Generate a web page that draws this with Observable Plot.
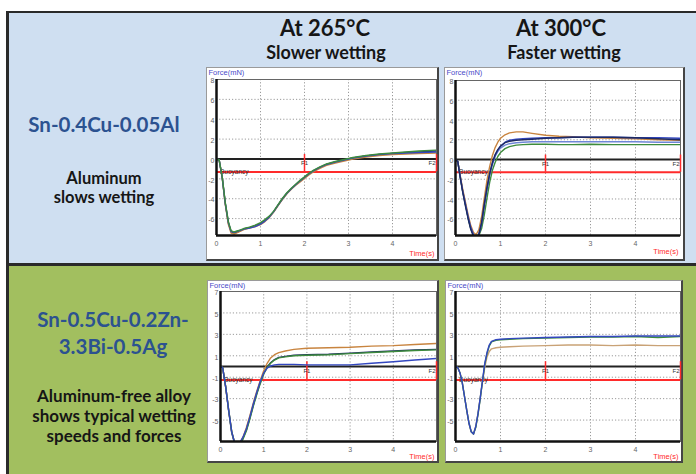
<!DOCTYPE html>
<html><head><meta charset="utf-8">
<script src="https://cdn.jsdelivr.net/npm/d3@7"></script>
<script src="https://cdn.jsdelivr.net/npm/@observablehq/plot@0.6"></script>
<style>
html,body{margin:0;padding:0;background:#fff;}
#root{position:relative;width:696px;height:474px;overflow:hidden;}
.box{position:absolute;background:#fff;border-top:1px solid #9a9a9a;border-left:1px solid #9a9a9a;border-right:2px solid #454545;border-bottom:2px solid #454545;}
.box svg{display:block;}
</style></head><body><div id="root"></div>
<script>
// ---------- text ----------
const columnTitles = ["At 265°C", "At 300°C"];
const columnSubtitles = ["Slower wetting", "Faster wetting"];
const alloyTop = ["Sn-0.4Cu-0.05Al"];
const noteTop = ["Aluminum", "slows wetting"];
const alloyBottom = ["Sn-0.5Cu-0.2Zn-", "3.3Bi-0.5Ag"];
const noteBottom = ["Aluminum-free alloy", "shows typical wetting", "speeds and forces"];
const yLabel = "Force(mN)";
const xLabel = "Time(s)";
const buoyancyLabel = "Buoyancy";
const markerLabels = ["F1", "F2"];

// ---------- axes ----------
const xDomain = [0, 5];
const xTicks = [0, 1, 2, 3, 4];
const yDomainTop = [-7.7, 8];
const yTicksTop = [8, 6, 4, 2, 0, -2, -4, -6];
const yDomainBottom = [-7, 7];
const yTicksBottom = [7, 5, 3, 1, -1, -3, -5];
const buoyancyTop = -1.3;
const buoyancyBottom = -1.25;
const markerT = [2, 5];

// ---------- Panel A: Sn-0.4Cu-0.05Al at 265°C ----------
const tA = [0, 0.06, 0.13, 0.2, 0.27, 0.33, 0.4, 0.5, 0.62, 0.75, 0.88, 1.0, 1.1, 1.2, 1.3, 1.4, 1.5, 1.6, 1.7, 1.8, 1.9, 2.0, 2.1, 2.2, 2.35, 2.5, 2.7, 2.9, 3.1, 3.4, 3.7, 4.0, 4.3, 4.6, 5.0];
const a1 = [0, -0.1, -1.8, -4.4, -6.3, -7.2, -7.35, -7.2, -7.0, -6.85, -6.65, -6.4, -6.1, -5.75, -5.25, -4.6, -3.95, -3.4, -2.95, -2.55, -2.15, -1.8, -1.45, -1.15, -0.8, -0.5, -0.25, -0.05, 0.15, 0.35, 0.5, 0.6, 0.7, 0.8, 0.9];
const a2 = [0, -0.1, -1.9, -4.5, -6.4, -7.3, -7.4, -7.25, -7.05, -6.95, -6.8, -6.55, -6.25, -5.85, -5.3, -4.65, -4.0, -3.45, -3.0, -2.6, -2.2, -1.85, -1.5, -1.2, -0.85, -0.55, -0.3, -0.1, 0.1, 0.3, 0.45, 0.55, 0.6, 0.65, 0.7];
const a3 = [0, -0.1, -1.9, -4.6, -6.6, -7.45, -7.55, -7.35, -7.1, -6.95, -6.8, -6.6, -6.3, -5.9, -5.35, -4.7, -4.05, -3.5, -3.05, -2.65, -2.3, -1.95, -1.6, -1.3, -0.95, -0.65, -0.4, -0.2, 0.0, 0.2, 0.35, 0.45, 0.5, 0.55, 0.6];
const a4 = [0, -0.1, -1.85, -4.5, -6.45, -7.3, -7.45, -7.3, -7.05, -6.9, -6.7, -6.5, -6.2, -5.8, -5.3, -4.65, -4.0, -3.45, -3.0, -2.6, -2.2, -1.85, -1.5, -1.2, -0.85, -0.55, -0.3, -0.1, 0.1, 0.3, 0.45, 0.55, 0.65, 0.72, 0.8];

// ---------- Panel B: Sn-0.4Cu-0.05Al at 300°C ----------
const tB = [0, 0.05, 0.1, 0.16, 0.22, 0.28, 0.34, 0.4, 0.46, 0.52, 0.58, 0.64, 0.7, 0.76, 0.82, 0.88, 0.94, 1.0, 1.1, 1.2, 1.35, 1.5, 1.7, 2.0, 2.3, 2.6, 3.0, 3.5, 4.0, 4.5, 5.0];
const b1 = [0, -0.2, -1.6, -3.2, -4.5, -5.8, -6.9, -7.6, -7.9, -7.6, -6.5, -4.7, -3.0, -1.5, -0.4, 0.4, 0.95, 1.35, 1.75, 1.95, 2.05, 2.1, 2.15, 2.2, 2.2, 2.25, 2.25, 2.25, 2.2, 2.2, 2.15];
const b2 = [0, -0.2, -1.5, -3.0, -4.3, -5.6, -6.7, -7.4, -7.6, -7.1, -5.8, -3.9, -2.1, -0.7, 0.4, 1.2, 1.75, 2.15, 2.5, 2.7, 2.8, 2.8, 2.65, 2.45, 2.35, 2.3, 2.2, 2.15, 2.1, 2.0, 1.95];
const b3 = [0, -0.2, -1.6, -3.2, -4.5, -5.9, -7.0, -7.7, -7.9, -7.7, -7.0, -5.6, -3.9, -2.3, -1.1, -0.3, 0.3, 0.7, 1.1, 1.3, 1.45, 1.5, 1.55, 1.55, 1.5, 1.5, 1.55, 1.5, 1.5, 1.5, 1.5];
const b4 = [0, -0.2, -1.7, -3.3, -4.7, -6.0, -7.1, -7.8, -8.0, -7.6, -6.4, -4.5, -2.8, -1.4, -0.3, 0.5, 1.0, 1.35, 1.7, 1.85, 1.95, 2.0, 2.05, 2.15, 2.2, 2.25, 2.25, 2.25, 2.2, 2.1, 2.0];
const b5 = [0, -0.2, -1.6, -3.2, -4.6, -5.9, -7.0, -7.7, -7.9, -7.5, -6.3, -4.5, -2.9, -1.5, -0.5, 0.3, 0.8, 1.15, 1.45, 1.6, 1.7, 1.75, 1.8, 1.8, 1.8, 1.8, 1.8, 1.8, 1.8, 1.75, 1.75];

// ---------- Panel C: Sn-0.5Cu-0.2Zn-3.3Bi-0.5Ag at 265°C ----------
const tC = [0, 0.05, 0.12, 0.19, 0.26, 0.32, 0.38, 0.45, 0.52, 0.6, 0.68, 0.76, 0.84, 0.92, 1.0, 1.08, 1.16, 1.25, 1.35, 1.5, 1.7, 2.0, 2.5, 3.0, 3.5, 4.0, 4.5, 5.0];
const c1 = [0, -0.1, -1.9, -4.1, -6.1, -7.0, -7.3, -7.1, -6.6, -5.7, -4.6, -3.4, -2.3, -1.3, -0.4, 0.3, 0.8, 1.1, 1.3, 1.45, 1.6, 1.7, 1.75, 1.8, 1.9, 1.95, 2.05, 2.15];
const c2 = [0, -0.1, -1.9, -4.1, -6.1, -7.0, -7.3, -7.2, -6.8, -6.0, -4.9, -3.7, -2.6, -1.6, -0.7, -0.1, 0.3, 0.6, 0.8, 0.9, 1.0, 1.05, 1.1, 1.2, 1.3, 1.4, 1.5, 1.55];
const c3 = [0, -0.1, -1.9, -4.2, -6.2, -7.1, -7.3, -7.2, -6.7, -5.9, -4.8, -3.6, -2.5, -1.5, -0.65, -0.05, 0.35, 0.65, 0.85, 0.95, 1.05, 1.1, 1.15, 1.25, 1.35, 1.45, 1.55, 1.6];
const c4 = [0, -0.1, -1.9, -4.1, -6.1, -7.0, -7.3, -7.1, -6.6, -5.8, -4.7, -3.5, -2.4, -1.4, -0.6, -0.15, 0.05, 0.15, 0.2, 0.2, 0.2, 0.15, 0.15, 0.15, 0.3, 0.45, 0.6, 0.75];

// ---------- Panel D: Sn-0.5Cu-0.2Zn-3.3Bi-0.5Ag at 300°C ----------
const tD = [0, 0.05, 0.1, 0.15, 0.2, 0.25, 0.3, 0.35, 0.4, 0.45, 0.5, 0.55, 0.6, 0.65, 0.7, 0.75, 0.8, 0.9, 1.0, 1.2, 1.5, 2.0, 2.5, 3.0, 3.5, 4.0, 4.5, 5.0];
const dd1 = [0, -0.1, -0.6, -1.5, -2.8, -4.1, -5.3, -6.1, -6.3, -5.6, -4.4, -2.9, -1.3, 0.3, 1.3, 2.0, 2.35, 2.5, 2.55, 2.6, 2.65, 2.7, 2.75, 2.8, 2.8, 2.85, 2.85, 2.85];
const dd2 = [0, -0.1, -0.6, -1.5, -2.8, -4.1, -5.3, -6.1, -6.3, -5.7, -4.5, -3.0, -1.4, 0.2, 1.2, 1.9, 2.3, 2.45, 2.5, 2.55, 2.6, 2.65, 2.7, 2.75, 2.75, 2.8, 2.7, 2.8];
const dd3 = [0, -0.1, -0.6, -1.5, -2.8, -4.1, -5.3, -6.1, -6.3, -5.6, -4.4, -2.9, -1.4, -0.1, 0.9, 1.4, 1.65, 1.75, 1.8, 1.85, 1.9, 1.95, 2.0, 2.0, 1.95, 2.0, 1.95, 1.95];

// ---------- styles ----------
const GREEN = "#3d8b3d", BLUE = "#3347c0", ORANGE = "#c8843f", NAVY = "#1d2a63", LBLUE = "#6f86d6", TAN = "#c9a276";
const RED = "#ff2b2b";

function rowsOf(t, list) {
  return list.flatMap(([name, vals]) => t.map((x, i) => ({t: x, f: vals[i], run: name})));
}

function chart(cfg) {
  const {t, series, colors, yDomain, yTicks, buoy, w, h, ml, mr, mt, mb, timeDy} = cfg;
  const rows = rowsOf(t, series);
  const names = series.map(s => s[0]);
  return Plot.plot({
    width: w, height: h,
    marginLeft: ml, marginRight: mr, marginTop: mt, marginBottom: mb,
    style: {background: "white", fontFamily: "'Liberation Sans', Arial, sans-serif", overflow: "visible"},
    x: {domain: xDomain},
    y: {domain: yDomain},
    color: {domain: names, range: colors},
    marks: [
      Plot.gridX(xTicks.slice(1), {stroke: "#9a9a9a", strokeOpacity: 1, strokeDasharray: "1.2,2"}),
      Plot.gridY(yTicks.filter(d => d !== 0 && d !== yDomain[1]), {stroke: "#9a9a9a", strokeOpacity: 1, strokeDasharray: "1.2,2"}),
      Plot.frame({stroke: "#666"}),
      Plot.axisY(yTicks, {anchor: "left", tickSize: 0, tickPadding: 2, dy: 1.5, fontSize: 7, color: "#666", tickFormat: d => String(d), label: null}),
      Plot.axisX(xTicks, {anchor: "bottom", tickSize: 0, tickPadding: 6, fontSize: 7, color: "#666", label: null}),
      Plot.ruleY([0], {stroke: "#222", strokeWidth: 2}),
      Plot.ruleY([buoy], {stroke: RED, strokeWidth: 2}),
      Plot.ruleX(markerT, {x: d => d, y1: 0.45, y2: buoy, stroke: RED, strokeWidth: 1.5}),
      Plot.text([markerLabels[0]], {x: () => markerT[0], y: () => -0.45, text: d => d, fontSize: 6, fill: "#333"}),
      Plot.text([markerLabels[1]], {x: () => markerT[1], y: () => -0.45, text: d => d, fontSize: 6, fill: "#333", textAnchor: "end", dx: -1}),
      Plot.text([buoyancyLabel], {x: () => 0.08, y: () => buoy, text: d => d, fontSize: 6.5, fill: "#3a2a2a", textAnchor: "start"}),
      Plot.line(rows, {x: "t", y: "f", z: "run", stroke: "run", strokeWidth: 1.4, clip: true}),
      Plot.ruleX([xDomain[0]], {stroke: "#111", strokeWidth: 2.5}),
      Plot.ruleY([yDomain[0]], {stroke: "#111", strokeWidth: 2.5}),
      Plot.text([yLabel], {frameAnchor: "top-left", text: d => d, textAnchor: "start", dx: -(ml - 1), dy: -(mt - 1), fill: "#4a4ac8", fontSize: 7.5}),
      Plot.text([xLabel], {frameAnchor: "bottom-right", text: d => d, textAnchor: "end", dx: -2, dy: timeDy, fill: RED, fontSize: 7.5})
    ]
  });
}

const root = document.getElementById("root");

// background panels and texts
const bg = d3.select(root).append("svg")
  .attr("width", 696).attr("height", 474)
  .style("position", "absolute").style("left", "0px").style("top", "0px");
bg.append("rect").attr("x", 6).attr("y", 11).attr("width", 690).attr("height", 255).attr("fill", "#cfdff1");
bg.append("rect").attr("x", 6).attr("y", 266).attr("width", 690).attr("height", 208).attr("fill", "#a2bf5f");
bg.append("rect").attr("x", 6).attr("y", 11).attr("width", 690).attr("height", 2).attr("fill", "#2a2a2a");
bg.append("rect").attr("x", 6).attr("y", 11).attr("width", 3).attr("height", 463).attr("fill", "#2a2a2a");
bg.append("rect").attr("x", 6).attr("y", 263).attr("width", 690).attr("height", 3).attr("fill", "#2a2a2a");

const FONT = "Lato, 'Open Sans', sans-serif";
function label(txt, x, y, size, color) {
  bg.append("text").attr("x", x).attr("y", y).attr("text-anchor", "middle")
    .attr("font-family", FONT).attr("font-weight", "bold").attr("font-size", size)
    .attr("fill", color).text(txt);
}
label(columnTitles[0], 325, 36, 22, "#161616");
label(columnTitles[1], 561, 36, 22, "#161616");
label(columnSubtitles[0], 326, 59, 18, "#161616");
label(columnSubtitles[1], 564, 59, 18, "#161616");
label(alloyTop[0], 104, 132, 20.5, "#2c5290");
noteTop.forEach((s, i) => label(s, 104, 184 + i * 19, 16.5, "#161616"));
alloyBottom.forEach((s, i) => label(s, 113, 327 + i * 27, 20.5, "#2c5290"));
noteBottom.forEach((s, i) => label(s, 114, 402 + i * 20, 17, "#161616"));

function place(svg, left, top) {
  const div = document.createElement("div");
  div.className = "box";
  div.style.left = left + "px";
  div.style.top = top + "px";
  div.appendChild(svg);
  root.appendChild(div);
}

place(chart({t: tA, series: [["A4", a4], ["A3", a3], ["A2", a2], ["A1", a1]], colors: [NAVY, ORANGE, BLUE, GREEN],
  yDomain: yDomainTop, yTicks: yTicksTop, buoy: buoyancyTop, w: 230, h: 191, ml: 9, mr: 1, mt: 11, mb: 24, timeDy: 20}), 206, 67);
place(chart({t: tB, series: [["B5", b5], ["B3", b3], ["B2", b2], ["B1", b1], ["B4", b4]], colors: [LBLUE, GREEN, ORANGE, BLUE, NAVY],
  yDomain: yDomainTop, yTicks: yTicksTop, buoy: buoyancyTop, w: 238, h: 191, ml: 10, mr: 3, mt: 12, mb: 24, timeDy: 18}), 444, 67);
place(chart({t: tC, series: [["C3", c3], ["C1", c1], ["C2", c2], ["C4", c4]], colors: [NAVY, ORANGE, GREEN, BLUE],
  yDomain: yDomainBottom, yTicks: yTicksBottom, buoy: buoyancyBottom, w: 229, h: 180, ml: 12, mr: 1, mt: 10, mb: 20, timeDy: 17}), 207, 280);
place(chart({t: tD, series: [["D3", dd3], ["D2", dd2], ["D1", dd1]], colors: [TAN, GREEN, BLUE],
  yDomain: yDomainBottom, yTicks: yTicksBottom, buoy: buoyancyBottom, w: 235, h: 180, ml: 9, mr: 1, mt: 10, mb: 20, timeDy: 17}), 445, 280);
</script></body></html>
